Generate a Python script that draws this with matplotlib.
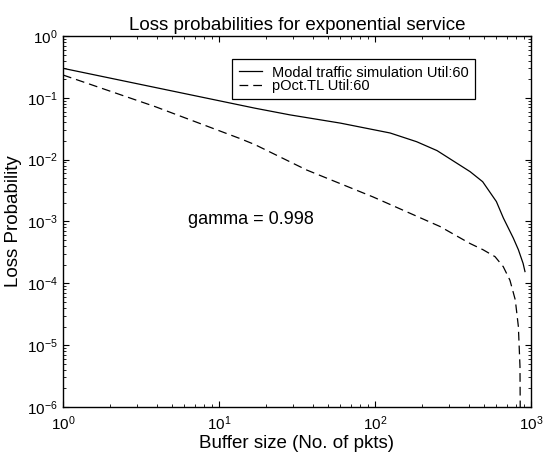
import numpy as np
import matplotlib
matplotlib.use("Agg")
import matplotlib.pyplot as plt

plt.rcParams["font.family"] = ["Liberation Sans", "DejaVu Sans"]
plt.rcParams["mathtext.default"] = "regular"

# simulation curve (solid)
sim_x = [1, 17, 28.5, 60, 125, 185, 250, 407, 490, 600, 665, 770, 830, 890, 915]
sim_y = [0.30, 0.068, 0.053, 0.039, 0.027, 0.0195, 0.014, 0.0064, 0.0044,
         0.0021, 0.00114, 5.4e-4, 3.5e-4, 2.1e-4, 1.55e-4]

# pOct.TL curve (dashed)
poct_x = [1, 3.9, 13.6, 17, 36.5, 97, 261, 407, 492, 588, 664, 733, 793, 830, 850, 862]
poct_y = [0.234, 0.072, 0.022, 0.0175, 0.0068, 0.0025, 8.3e-4, 4.4e-4, 3.5e-4,
          2.7e-4, 1.86e-4, 1.12e-4, 5.4e-5, 2.0e-5, 4.5e-6, 1e-8]

labels = ["Modal traffic simulation Util:60", "pOct.TL Util:60"]
# %%
fig = plt.figure(figsize=(5.45, 4.55), dpi=100)
ax = fig.add_axes([0.1156, 0.1055, 0.8587, 0.8154])

ax.plot(sim_x, sim_y, color="black", linewidth=0.9, label=labels[0])
ax.plot(poct_x, poct_y, color="black", linewidth=0.9, linestyle=(0, (7, 4)), label=labels[1])

ax.set_xscale("log")
ax.set_yscale("log")
ax.set_xlim(1, 1000)
ax.set_ylim(1e-6, 1)

ax.tick_params(which="both", direction="in", top=True, right=True, labelsize=11)
ax.tick_params(which="major", length=4, width=0.8)
ax.tick_params(which="minor", length=2, width=0.6)
ax.tick_params(axis="x", pad=5)
ax.tick_params(axis="y", pad=4)
ax.xaxis.set_minor_formatter(matplotlib.ticker.NullFormatter())
ax.yaxis.set_major_locator(matplotlib.ticker.LogLocator(base=10, numticks=10))
ax.yaxis.set_minor_locator(matplotlib.ticker.LogLocator(base=10, subs=np.arange(2, 10), numticks=10))
ax.yaxis.set_minor_formatter(matplotlib.ticker.NullFormatter())
for s in ax.spines.values():
    s.set_linewidth(1.0)

ax.set_title("Loss probabilities for exponential service", fontsize=13.5, pad=4)
ax.set_xlabel("Buffer size (No. of pkts)", fontsize=13.5, labelpad=2)
ax.set_ylabel("Loss Probability", fontsize=13.5, labelpad=3)

ax.text(6.3, 1.06e-3, "gamma = 0.998", fontsize=13, va="center", ha="left")

leg = ax.legend(loc="upper left", bbox_to_anchor=(0.361, 0.938), borderaxespad=0,
                fontsize=10.5, fancybox=False, framealpha=1, edgecolor="black",
                handlelength=1.6, handletextpad=0.7, labelspacing=-0.05, borderpad=0.45)
leg.get_frame().set_linewidth(0.9)

plt.savefig("out.png", dpi=100)
plt.close()
